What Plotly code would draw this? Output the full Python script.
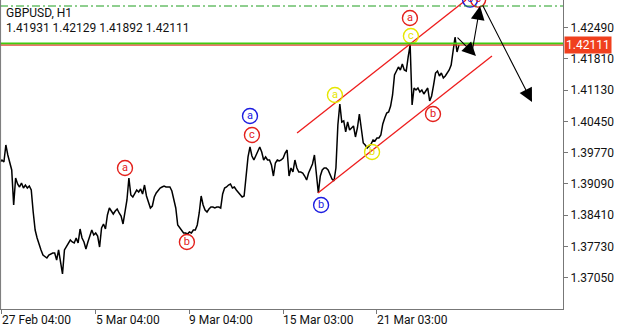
import plotly.graph_objects as go

close = [
    1.39568, 1.39611, 1.39568, 1.39938, 1.39720, 1.39568, 1.39394, 1.38632, 1.39220, 1.39089,
    1.39024, 1.39111, 1.39002, 1.39067, 1.39002, 1.39045, 1.38958, 1.38480, 1.38088, 1.37914,
    1.37762, 1.37653, 1.37544, 1.37501, 1.37479, 1.37544, 1.37566, 1.37588, 1.37588, 1.37435,
    1.37653, 1.37348, 1.37131, 1.37653, 1.37718, 1.37805, 1.37870, 1.37827, 1.37805, 1.37914,
    1.37805, 1.38110, 1.37914, 1.37827, 1.37675, 1.37827, 1.37936, 1.38088, 1.37979, 1.38023,
    1.37957, 1.37718, 1.38132, 1.38219, 1.38110, 1.38414, 1.38567, 1.38501, 1.38436, 1.38501,
    1.38545, 1.38458, 1.38393, 1.38219, 1.38501, 1.38741, 1.39220, 1.38850, 1.38806, 1.38893,
    1.38958, 1.38915, 1.38980, 1.38871, 1.39067, 1.38828, 1.38697, 1.38567, 1.38610, 1.38806,
    1.38893, 1.38958, 1.39002, 1.39024, 1.39045, 1.39024, 1.39024, 1.39024, 1.38937, 1.38719,
    1.38567, 1.38197, 1.38132, 1.38088, 1.38023, 1.38023, 1.38001, 1.38045, 1.38023, 1.38088,
    1.38088, 1.38197, 1.38458, 1.38828, 1.38632, 1.38523, 1.38480, 1.38545, 1.38589, 1.38589,
    1.38567, 1.38589, 1.38589, 1.38567, 1.38871, 1.39002, 1.39024, 1.39067, 1.39089, 1.39002,
    1.39024, 1.38958, 1.38915, 1.38850, 1.38806, 1.38828, 1.39285, 1.39677, 1.39894, 1.39698,
    1.39611, 1.39698, 1.39807, 1.39894, 1.39785, 1.39611, 1.39677, 1.39611, 1.39611, 1.39502,
    1.39263, 1.39546, 1.39611, 1.39589, 1.39611, 1.39655, 1.39764, 1.39829, 1.39263, 1.39437,
    1.39350, 1.39611, 1.39437, 1.39350, 1.39350, 1.39328, 1.39263, 1.39176, 1.39328, 1.39437,
    1.39524, 1.39720, 1.39350, 1.38893, 1.39263, 1.39394, 1.39437, 1.39437, 1.39394, 1.39307,
    1.39198, 1.39154, 1.39437, 1.40373, 1.40830, 1.40438, 1.40460, 1.40221, 1.40438, 1.40264,
    1.40308, 1.40351, 1.40112, 1.40308, 1.40612, 1.40308, 1.39981, 1.39938, 1.39872, 1.39916,
    1.39959, 1.40046, 1.40025, 1.40090, 1.40090, 1.40155, 1.40395, 1.40525, 1.40634, 1.40656,
    1.40786, 1.41026, 1.41461, 1.41548, 1.41635, 1.41570, 1.41700, 1.41570, 1.41548, 1.41853,
    1.42114, 1.40808, 1.41178, 1.41134, 1.41178, 1.41091, 1.41134, 1.41047, 1.41113, 1.41178,
    1.40895, 1.41004, 1.41243, 1.41504, 1.41548, 1.41439, 1.41504, 1.41396, 1.41439, 1.41504,
    1.41570, 1.41678, 1.42005, 1.42288, 1.41961, 1.42111,
]
bars = list(range(len(close)))

y_ticks = [1.37050, 1.37730, 1.38410, 1.39090, 1.39770, 1.40450, 1.41130, 1.41810, 1.42490]
x_tick_idx = [1, 49, 97, 145, 193]
x_tick_text = ["27 Feb 04:00", "5 Mar 04:00", "9 Mar 04:00", "15 Mar 03:00", "21 Mar 03:00"]

# Elliott wave labels
wave_x = [64.0, 95.7, 129.0, 128.0, 164.4, 171.5, 190.5, 210.4, 209.9, 221.7, 240.7, 244.8]
wave_y = [1.39437, 1.37827, 1.40155, 1.40569, 1.38632, 1.41026, 1.39785, 1.42309, 1.42701,
          1.40612, 1.43100, 1.43100]
wave_text = ["a", "b", "c", "a", "b", "a", "b", "c", "a", "b", "c", "c"]
wave_color = ["#e3201b", "#e3201b", "#e3201b", "#1c1ce0", "#1c1ce0", "#e6e600", "#e6e600",
              "#e6e600", "#e3201b", "#e3201b", "#1c1ce0", "#e3201b"]

# channel lines (start/end bar, price)
chan_upper = [(152.1, 1.40199), (238.6, 1.43093)]
chan_lower = [(162.8, 1.38893), (251.9, 1.41874)]

# arrows: (tail bar, tail price, tip bar, tip price)
arrows = [
    (233.5, 1.42309, 243.7, 1.41874),
    (241.7, 1.41961, 245.8, 1.42962),
    (246.8, 1.43006, 272.4, 1.40873),
]

last_price = 1.42111
green_level = 1.42146
dashdot_level = 1.42962

y_min, y_max = 1.363689, 1.430928
x_min, x_max = 0, 288.27

FONT = "Roboto"

fig = go.Figure()

fig.add_trace(go.Scatter(x=bars, y=close, mode="lines",
                         line=dict(color="black", width=1.5), hoverinfo="skip"))

for (p0, p1) in (chan_upper, chan_lower):
    fig.add_trace(go.Scatter(x=[p0[0], p1[0]], y=[p0[1], p1[1]], mode="lines",
                             line=dict(color="#ee1c1c", width=1.3), hoverinfo="skip"))

fig.add_trace(go.Scatter(
    x=wave_x, y=wave_y, mode="markers+text", text=wave_text,
    textposition="middle center",
    textfont=dict(family=FONT, size=11, color=wave_color),
    marker=dict(symbol="circle-open", size=15, color=wave_color,
                line=dict(width=1.4, color=wave_color)),
    hoverinfo="skip"))

shapes = [
    dict(type="line", xref="paper", x0=0, x1=1, yref="y", y0=dashdot_level, y1=dashdot_level,
         line=dict(color="#1f9e1f", width=1, dash="8px,3px,2px,3px")),
    dict(type="line", xref="paper", x0=0, x1=1, yref="y", y0=green_level, y1=green_level,
         line=dict(color="#3fcc10", width=2)),
    dict(type="line", xref="paper", x0=0, x1=1, yref="y", y0=last_price, y1=last_price,
         line=dict(color="#e02010", width=1)),
    dict(type="line", xref="paper", x0=0.001, x1=0.001, yref="paper", y0=0, y1=1,
         line=dict(color="#777777", width=1)),
]

annotations = []
for (ax_, ay_, x_, y_) in arrows:
    annotations.append(dict(x=x_, y=y_, ax=ax_, ay=ay_, xref="x", yref="y", axref="x", ayref="y",
                            showarrow=True, arrowhead=2, arrowsize=2.5, arrowwidth=1.1,
                            arrowcolor="black", text=""))

for i, t in zip(x_tick_idx, x_tick_text):
    annotations.append(dict(x=i, y=0, xref="x", yref="paper", text=t, showarrow=False,
                            xanchor="left", yanchor="top", yshift=-2, xshift=-2,
                            font=dict(family=FONT, size=12, color="#111111")))

annotations.append(dict(x=1, xref="paper", y=last_price, yref="y", text=f"{last_price:.5f}",
                        showarrow=False, xanchor="left", yanchor="middle", xshift=1,
                        bgcolor="#f0401e", borderpad=1,
                        font=dict(family=FONT, size=12, color="white")))

annotations.append(dict(x=0, y=1, xref="paper", yref="paper", text="GBPUSD, H1",
                        showarrow=False, xanchor="left", yanchor="top", xshift=4, yshift=-4,
                        font=dict(family=FONT, size=12, color="#111111")))
annotations.append(dict(x=0, y=1, xref="paper", yref="paper",
                        text="1.41931 1.42129 1.41892 1.42111",
                        showarrow=False, xanchor="left", yanchor="top", xshift=4, yshift=-19,
                        font=dict(family=FONT, size=12, color="#111111")))

fig.update_layout(
    width=625, height=327,
    margin=dict(l=0, r=62, t=0, b=18),
    paper_bgcolor="white", plot_bgcolor="white",
    showlegend=False,
    shapes=shapes, annotations=annotations,
    font=dict(family=FONT, size=12, color="#111111"),
)
fig.update_xaxes(range=[x_min, x_max], showgrid=False, zeroline=False,
                 tickmode="array", tickvals=x_tick_idx, ticktext=[""] * len(x_tick_idx),
                 ticks="outside", ticklen=4, tickcolor="#777777",
                 showline=True, linecolor="#777777", linewidth=1)
fig.update_yaxes(range=[y_min, y_max], side="right", showgrid=False, zeroline=False,
                 tickmode="array", tickvals=y_ticks, ticktext=[f"{v:.5f}" for v in y_ticks],
                 ticks="outside", ticklen=4, tickcolor="#777777",
                 showline=True, linecolor="#777777", linewidth=1,
                 tickfont=dict(family=FONT, size=12, color="#111111"))

fig.write_html("out.html", config={"displayModeBar": False})
